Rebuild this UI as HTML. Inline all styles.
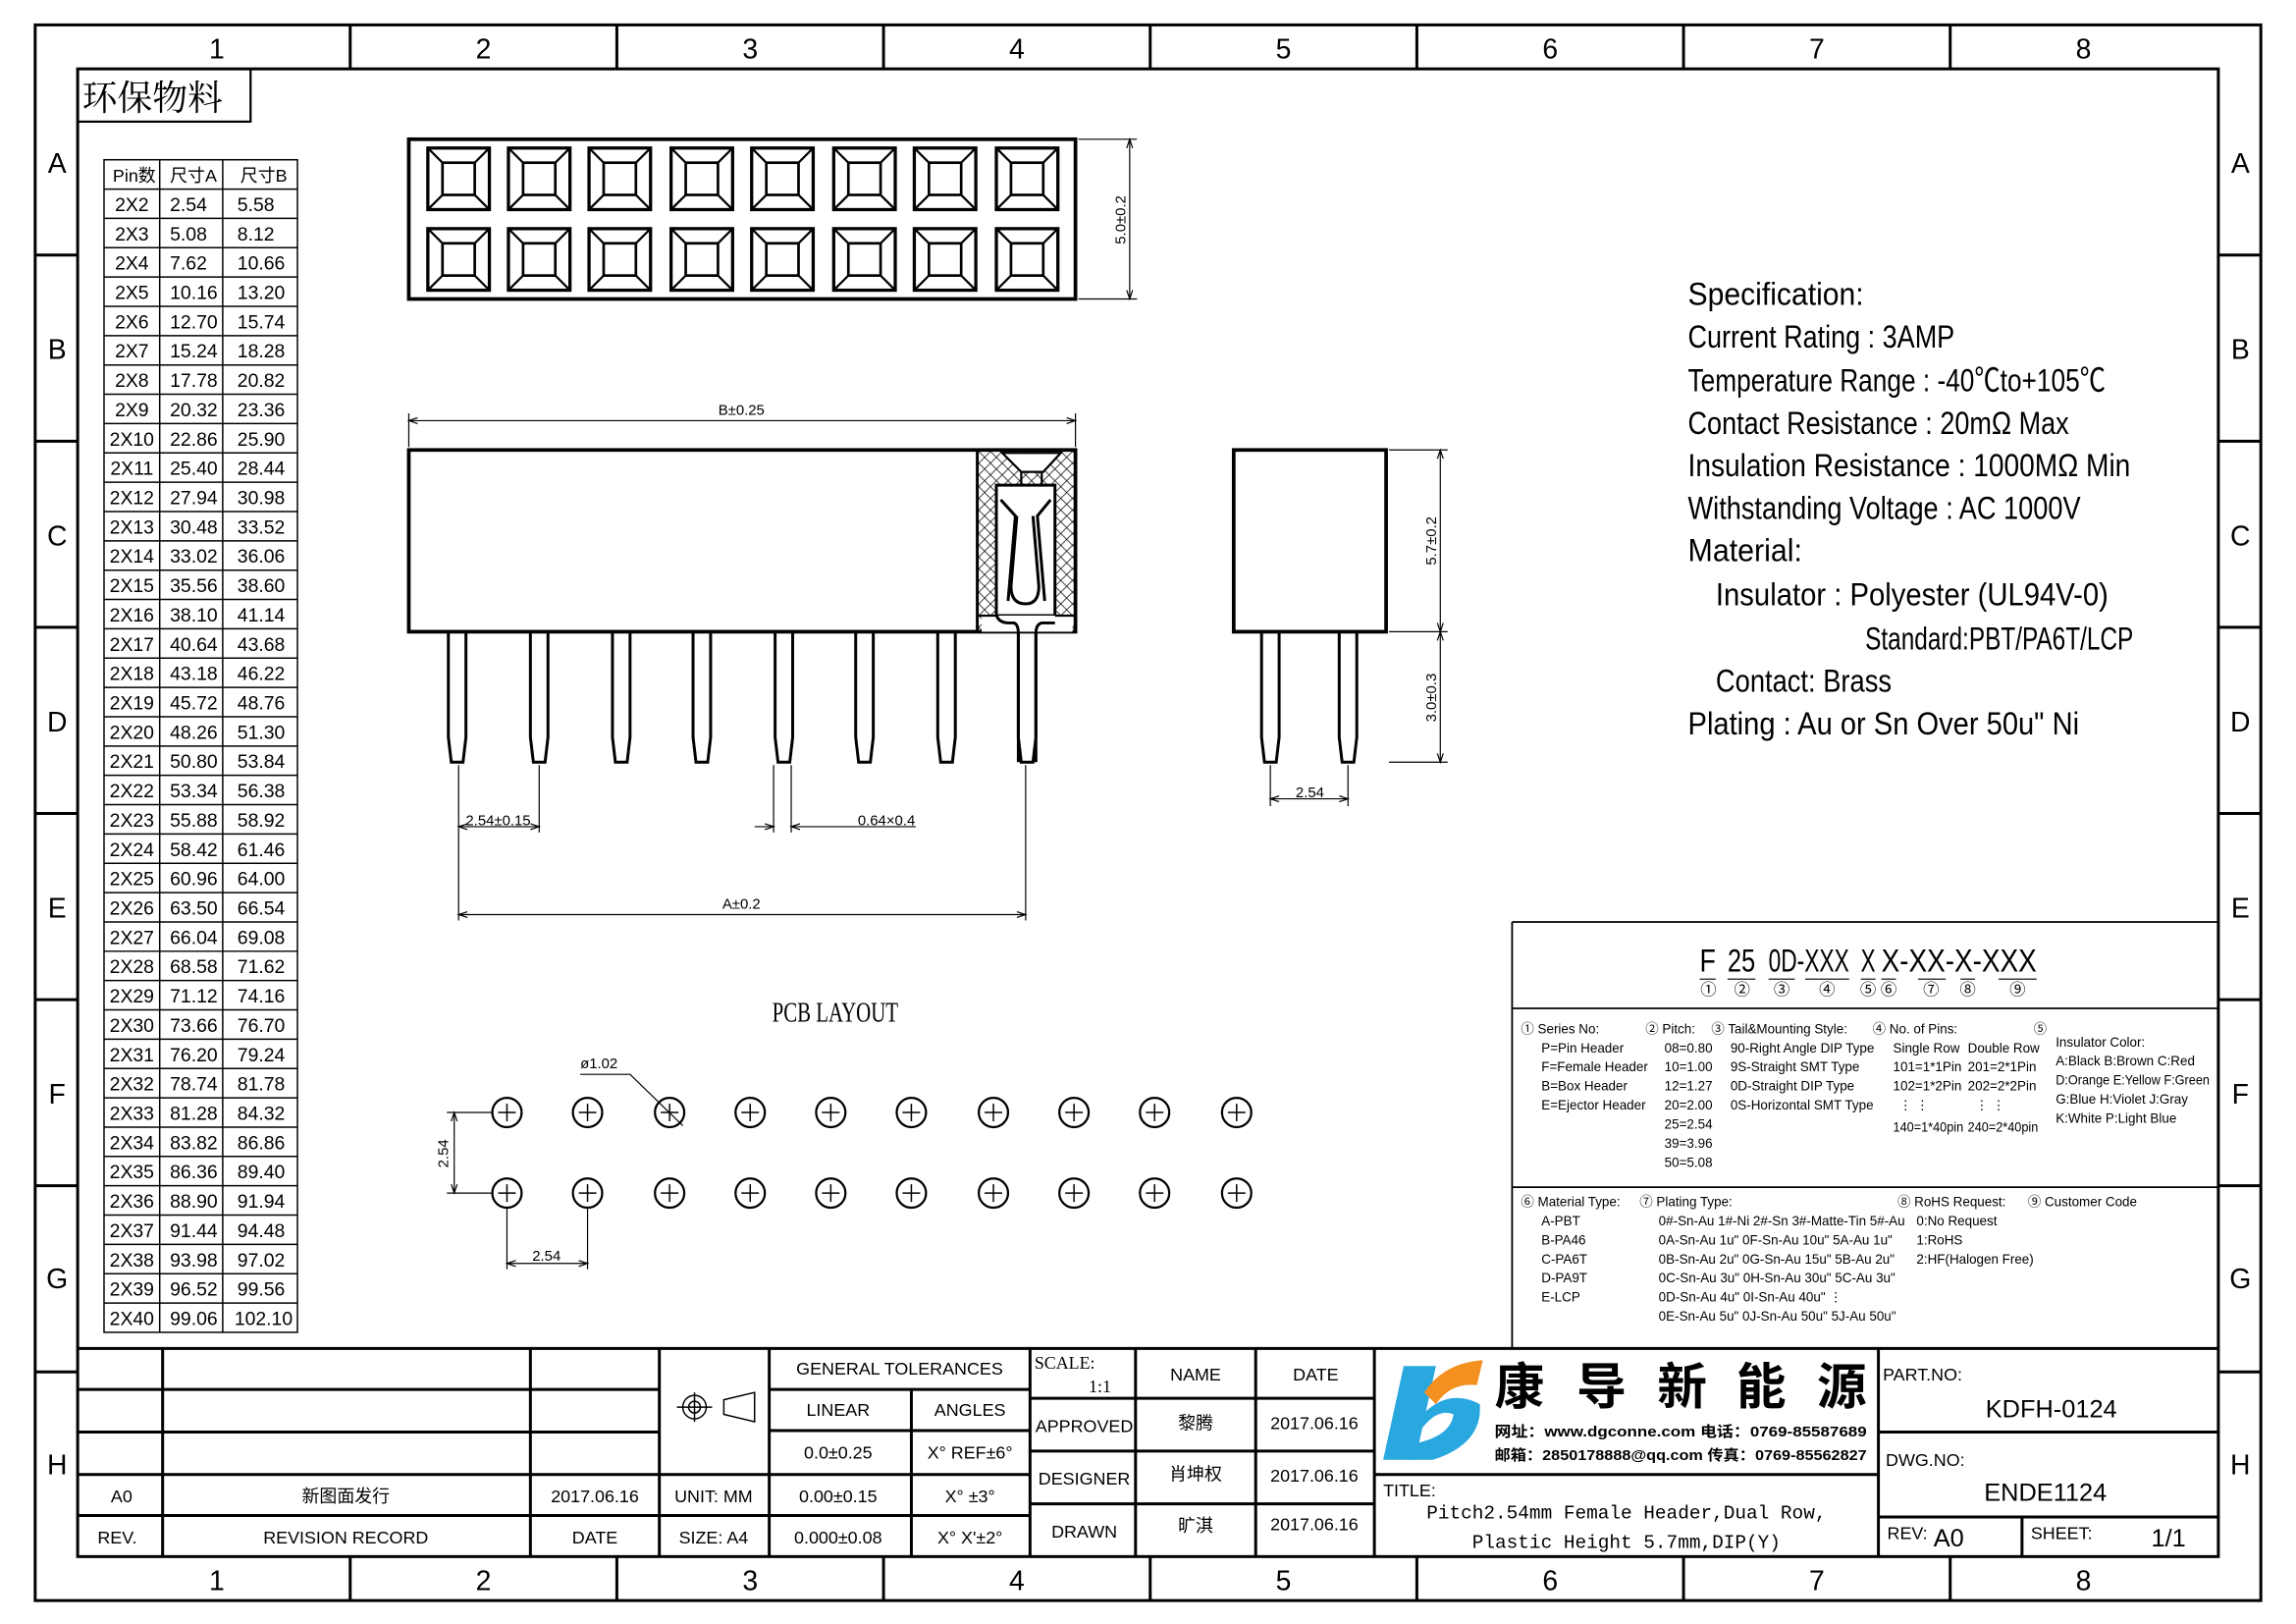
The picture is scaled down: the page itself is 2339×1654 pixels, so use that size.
<!DOCTYPE html>
<html><head><meta charset="utf-8"><style>
html,body{margin:0;padding:0;background:#fff;}
svg{display:block;}
text{font-family:"Liberation Sans","Noto Sans CJK SC",sans-serif;fill:#000;}
.s{font-family:"Liberation Serif","Noto Serif CJK SC",serif;}
.m{font-family:"Liberation Mono","Noto Sans CJK SC",monospace;}
</style></head><body>
<svg width="2339" height="1654" viewBox="0 0 1567 1108" preserveAspectRatio="none" xmlns="http://www.w3.org/2000/svg">
<rect x="0" y="0" width="1567" height="1108" fill="#fff"/>
<g fill="none" stroke="#000" stroke-width="2">
<rect x="24" y="17" width="1519" height="1075"/>
<rect x="53" y="47" width="1461" height="1015"/>
</g>
<g stroke="#000" stroke-width="2">
<line x1="239" y1="17" x2="239" y2="47"/><line x1="421" y1="17" x2="421" y2="47"/><line x1="603" y1="17" x2="603" y2="47"/><line x1="785" y1="17" x2="785" y2="47"/><line x1="967" y1="17" x2="967" y2="47"/><line x1="1149" y1="17" x2="1149" y2="47"/><line x1="1331" y1="17" x2="1331" y2="47"/>
<line x1="239" y1="1062" x2="239" y2="1092"/><line x1="421" y1="1062" x2="421" y2="1092"/><line x1="603" y1="1062" x2="603" y2="1092"/><line x1="785" y1="1062" x2="785" y2="1092"/><line x1="967" y1="1062" x2="967" y2="1092"/><line x1="1149" y1="1062" x2="1149" y2="1092"/><line x1="1331" y1="1062" x2="1331" y2="1092"/>
<line x1="24" y1="174" x2="53" y2="174"/><line x1="24" y1="301" x2="53" y2="301"/><line x1="24" y1="428" x2="53" y2="428"/><line x1="24" y1="555" x2="53" y2="555"/><line x1="24" y1="682" x2="53" y2="682"/><line x1="24" y1="809" x2="53" y2="809"/><line x1="24" y1="936" x2="53" y2="936"/>
<line x1="1514" y1="174" x2="1543" y2="174"/><line x1="1514" y1="301" x2="1543" y2="301"/><line x1="1514" y1="428" x2="1543" y2="428"/><line x1="1514" y1="555" x2="1543" y2="555"/><line x1="1514" y1="682" x2="1543" y2="682"/><line x1="1514" y1="809" x2="1543" y2="809"/><line x1="1514" y1="936" x2="1543" y2="936"/>
</g>
<g font-size="19" text-anchor="middle">
<text x="148" y="40">1</text><text x="330" y="40">2</text><text x="512" y="40">3</text><text x="694" y="40">4</text><text x="876" y="40">5</text><text x="1058" y="40">6</text><text x="1240" y="40">7</text><text x="1422" y="40">8</text>
<text x="148" y="1085">1</text><text x="330" y="1085">2</text><text x="512" y="1085">3</text><text x="694" y="1085">4</text><text x="876" y="1085">5</text><text x="1058" y="1085">6</text><text x="1240" y="1085">7</text><text x="1422" y="1085">8</text>
<text x="39" y="118">A</text><text x="39" y="245">B</text><text x="39" y="372">C</text><text x="39" y="499">D</text><text x="39" y="626">E</text><text x="39" y="753">F</text><text x="39" y="879">G</text><text x="39" y="1006">H</text>
<text x="1529" y="118">A</text><text x="1529" y="245">B</text><text x="1529" y="372">C</text><text x="1529" y="499">D</text><text x="1529" y="626">E</text><text x="1529" y="753">F</text><text x="1529" y="879">G</text><text x="1529" y="1006">H</text>
</g>
<rect x="53" y="47" width="118" height="36" fill="none" stroke="#000" stroke-width="1.5"/>
<text x="56" y="75" font-size="24" class="s">环保物料</text>

<g stroke="#000" stroke-width="1" fill="none">
<rect x="71" y="109" width="132" height="800"/>
<line x1="109" y1="109" x2="109" y2="909"/><line x1="152" y1="109" x2="152" y2="909"/>
<path d="M71 129H203M71 149H203M71 169H203M71 189H203M71 209H203M71 229H203M71 249H203M71 269H203M71 289H203M71 309H203M71 329H203M71 349H203M71 369H203M71 389H203M71 409H203M71 429H203M71 449H203M71 469H203M71 489H203M71 509H203M71 529H203M71 549H203M71 569H203M71 589H203M71 609H203M71 629H203M71 649H203M71 669H203M71 689H203M71 709H203M71 729H203M71 749H203M71 769H203M71 789H203M71 809H203M71 829H203M71 849H203M71 869H203M71 889H203"/>
</g>
<g font-size="12" class="s">
<text x="77" y="124">Pin数</text><text x="116" y="124">尺寸A</text><text x="164" y="124">尺寸B</text>
</g>
<g font-size="13" class="s">
<g text-anchor="middle">
<text x="90" y="144">2X2</text><text x="90" y="164">2X3</text><text x="90" y="184">2X4</text><text x="90" y="204">2X5</text><text x="90" y="224">2X6</text><text x="90" y="244">2X7</text><text x="90" y="264">2X8</text><text x="90" y="284">2X9</text><text x="90" y="304">2X10</text><text x="90" y="324">2X11</text><text x="90" y="344">2X12</text><text x="90" y="364">2X13</text><text x="90" y="384">2X14</text><text x="90" y="404">2X15</text><text x="90" y="424">2X16</text><text x="90" y="444">2X17</text><text x="90" y="464">2X18</text><text x="90" y="484">2X19</text><text x="90" y="504">2X20</text><text x="90" y="524">2X21</text><text x="90" y="544">2X22</text><text x="90" y="564">2X23</text><text x="90" y="584">2X24</text><text x="90" y="604">2X25</text><text x="90" y="624">2X26</text><text x="90" y="644">2X27</text><text x="90" y="664">2X28</text><text x="90" y="684">2X29</text><text x="90" y="704">2X30</text><text x="90" y="724">2X31</text><text x="90" y="744">2X32</text><text x="90" y="764">2X33</text><text x="90" y="784">2X34</text><text x="90" y="804">2X35</text><text x="90" y="824">2X36</text><text x="90" y="844">2X37</text><text x="90" y="864">2X38</text><text x="90" y="884">2X39</text><text x="90" y="904">2X40</text>
</g>
<g>
<text x="116" y="144">2.54</text><text x="116" y="164">5.08</text><text x="116" y="184">7.62</text><text x="116" y="204">10.16</text><text x="116" y="224">12.70</text><text x="116" y="244">15.24</text><text x="116" y="264">17.78</text><text x="116" y="284">20.32</text><text x="116" y="304">22.86</text><text x="116" y="324">25.40</text><text x="116" y="344">27.94</text><text x="116" y="364">30.48</text><text x="116" y="384">33.02</text><text x="116" y="404">35.56</text><text x="116" y="424">38.10</text><text x="116" y="444">40.64</text><text x="116" y="464">43.18</text><text x="116" y="484">45.72</text><text x="116" y="504">48.26</text><text x="116" y="524">50.80</text><text x="116" y="544">53.34</text><text x="116" y="564">55.88</text><text x="116" y="584">58.42</text><text x="116" y="604">60.96</text><text x="116" y="624">63.50</text><text x="116" y="644">66.04</text><text x="116" y="664">68.58</text><text x="116" y="684">71.12</text><text x="116" y="704">73.66</text><text x="116" y="724">76.20</text><text x="116" y="744">78.74</text><text x="116" y="764">81.28</text><text x="116" y="784">83.82</text><text x="116" y="804">86.36</text><text x="116" y="824">88.90</text><text x="116" y="844">91.44</text><text x="116" y="864">93.98</text><text x="116" y="884">96.52</text><text x="116" y="904">99.06</text>
<text x="162" y="144">5.58</text><text x="162" y="164">8.12</text><text x="162" y="184">10.66</text><text x="162" y="204">13.20</text><text x="162" y="224">15.74</text><text x="162" y="244">18.28</text><text x="162" y="264">20.82</text><text x="162" y="284">23.36</text><text x="162" y="304">25.90</text><text x="162" y="324">28.44</text><text x="162" y="344">30.98</text><text x="162" y="364">33.52</text><text x="162" y="384">36.06</text><text x="162" y="404">38.60</text><text x="162" y="424">41.14</text><text x="162" y="444">43.68</text><text x="162" y="464">46.22</text><text x="162" y="484">48.76</text><text x="162" y="504">51.30</text><text x="162" y="524">53.84</text><text x="162" y="544">56.38</text><text x="162" y="564">58.92</text><text x="162" y="584">61.46</text><text x="162" y="604">64.00</text><text x="162" y="624">66.54</text><text x="162" y="644">69.08</text><text x="162" y="664">71.62</text><text x="162" y="684">74.16</text><text x="162" y="704">76.70</text><text x="162" y="724">79.24</text><text x="162" y="744">81.78</text><text x="162" y="764">84.32</text><text x="162" y="784">86.86</text><text x="162" y="804">89.40</text><text x="162" y="824">91.94</text><text x="162" y="844">94.48</text><text x="162" y="864">97.02</text><text x="162" y="884">99.56</text><text x="160" y="904">102.10</text>
</g></g>

<defs>
<g id="sq" fill="none" stroke="#000">
<rect x="-21" y="-21" width="42" height="42" stroke-width="2.2"/>
<rect x="-11" y="-11" width="22" height="22" stroke-width="1.8"/>
<path d="M-21 -21L-11 -11M21 -21L11 -11M-21 21L-11 11M21 21L11 11" stroke-width="1.5"/>
</g>
<g id="pc" fill="none" stroke="#000" stroke-width="1.5">
<circle r="10"/><path d="M-6 0H6M0 -6V6" stroke-width="1"/>
</g>
<g id="pin" fill="#fff" stroke="#000" stroke-width="2">
<path d="M-6 0V72L-4 89H4L6 72V0"/>
</g>
</defs>
<rect x="279" y="95" width="455" height="109" fill="none" stroke="#000" stroke-width="2.5"/>
<use href="#sq" x="313" y="122"/><use href="#sq" x="368" y="122"/><use href="#sq" x="423" y="122"/><use href="#sq" x="479" y="122"/><use href="#sq" x="534" y="122"/><use href="#sq" x="590" y="122"/><use href="#sq" x="645" y="122"/><use href="#sq" x="701" y="122"/>
<use href="#sq" x="313" y="177"/><use href="#sq" x="368" y="177"/><use href="#sq" x="423" y="177"/><use href="#sq" x="479" y="177"/><use href="#sq" x="534" y="177"/><use href="#sq" x="590" y="177"/><use href="#sq" x="645" y="177"/><use href="#sq" x="701" y="177"/>
<g stroke="#000" stroke-width="0.8" fill="none">
<path d="M736 95H776M736 204H776M771 95V204"/>
<path d="M769 101L771 95L773 101M769 198L771 204L773 198"/>
</g>
<text x="768" y="150" font-size="10" text-anchor="middle" transform="rotate(-90 768 150)">5.0±0.2</text>

<g stroke="#000" stroke-width="0.8" fill="none">
<path d="M279 282V305M734 282V305M279 287H734"/>
<path d="M285 285L279 287L285 289M728 285L734 287L728 289"/>
</g>
<text x="506" y="283" font-size="10" text-anchor="middle">B±0.25</text>
<use href="#pin" x="312" y="431"/><use href="#pin" x="368" y="431"/><use href="#pin" x="424" y="431"/><use href="#pin" x="479" y="431"/><use href="#pin" x="535" y="431"/><use href="#pin" x="590" y="431"/><use href="#pin" x="646" y="431"/><use href="#pin" x="701" y="431"/>
<rect x="279" y="307" width="455" height="124" fill="#fff" stroke="#000" stroke-width="2.5"/>
<defs><pattern id="hx" width="8" height="8" patternUnits="userSpaceOnUse"><path d="M0 0L8 8M8 0L0 8" stroke="#000" stroke-width="0.5"/></pattern></defs>
<rect x="667" y="307" width="67" height="124" fill="url(#hx)" stroke="#000" stroke-width="2"/>
<path d="M684 309L697 322H712L724 309Z" fill="#fff" stroke="#000" stroke-width="1.5"/>
<path d="M680 331H720V420H680Z" fill="#fff" stroke="#000" stroke-width="2"/>
<rect x="670" y="420" width="62" height="11" fill="#fff" stroke="none"/>
<path d="M667 420H680M720 420H734" stroke="#000" stroke-width="1.5"/>
<path d="M697 322V331M711 322V331" stroke="#000" stroke-width="1.5"/>
<path d="M680 419Q681 425 689 425H692Q695 426 695 432V520M707 520V432Q707 426 711 425H720" fill="none" stroke="#000" stroke-width="2"/>
<path d="M683 341L693 352L688 410M717 341L708 352L713 410" fill="none" stroke="#000" stroke-width="2"/>
<path d="M694 352L690 400Q690 412 700 412Q709 412 709 400L705 352" fill="none" stroke="#000" stroke-width="2"/>
<g stroke="#000" stroke-width="0.8" fill="none">
<path d="M313 522V628M368 522V568M700 522V628M528 522V568M540 522V568"/>
<path d="M313 564H368M319 562L313 564L319 566M362 562L368 564L362 566"/>
<path d="M515 564H528M522 562L528 564L522 566M540 564H625M546 562L540 564L546 566"/>
<path d="M313 624H700M319 622L313 624L319 626M694 622L700 624L694 626"/>
</g>
<g font-size="10" text-anchor="middle">
<text x="340" y="563">2.54±0.15</text><text x="605" y="563">0.64×0.4</text><text x="506" y="620">A±0.2</text>
</g>

<use href="#pin" x="867" y="431"/><use href="#pin" x="920" y="431"/>
<rect x="842" y="307" width="104" height="124" fill="#fff" stroke="#000" stroke-width="2.5"/>
<g stroke="#000" stroke-width="0.8" fill="none">
<path d="M948 307H988M948 431H988M983 307V520M948 520H988"/>
<path d="M981 313L983 307L985 313M981 425L983 431L985 425M981 437L983 431L985 437M981 514L983 520L985 514"/>
<path d="M867 522V550M920 522V550M867 545H920M873 543L867 545L873 547M914 543L920 545L914 547"/>
</g>
<text x="980" y="369" font-size="10" text-anchor="middle" transform="rotate(-90 980 369)">5.7±0.2</text>
<text x="980" y="476" font-size="10" text-anchor="middle" transform="rotate(-90 980 476)">3.0±0.3</text>
<text x="894" y="544" font-size="10" text-anchor="middle">2.54</text>

<g font-size="22" class="s">
<text x="1152" y="208" textLength="120" lengthAdjust="spacingAndGlyphs">Specification:</text>
<text x="1152" y="237" textLength="182" lengthAdjust="spacingAndGlyphs">Current Rating : 3AMP</text>
<text x="1152" y="267" textLength="285" lengthAdjust="spacingAndGlyphs">Temperature Range : -40℃to+105℃</text>
<text x="1152" y="296" textLength="260" lengthAdjust="spacingAndGlyphs">Contact Resistance : 20mΩ Max</text>
<text x="1152" y="325" textLength="302" lengthAdjust="spacingAndGlyphs">Insulation Resistance : 1000MΩ Min</text>
<text x="1152" y="354" textLength="268" lengthAdjust="spacingAndGlyphs">Withstanding Voltage : AC 1000V</text>
<text x="1152" y="383" textLength="78" lengthAdjust="spacingAndGlyphs">Material:</text>
<text x="1171" y="413" textLength="268" lengthAdjust="spacingAndGlyphs">Insulator : Polyester (UL94V-0)</text>
<text x="1273" y="443" textLength="183" lengthAdjust="spacingAndGlyphs">Standard:PBT/PA6T/LCP</text>
<text x="1171" y="472" textLength="120" lengthAdjust="spacingAndGlyphs">Contact: Brass</text>
<text x="1152" y="501" textLength="267" lengthAdjust="spacingAndGlyphs">Plating : Au or Sn Over 50u" Ni</text>
</g>

<text x="570" y="697" font-size="19" text-anchor="middle" class="s" textLength="86" lengthAdjust="spacingAndGlyphs">PCB LAYOUT</text>
<use href="#pc" x="346" y="759"/><use href="#pc" x="401" y="759"/><use href="#pc" x="457" y="759"/><use href="#pc" x="512" y="759"/><use href="#pc" x="567" y="759"/><use href="#pc" x="622" y="759"/><use href="#pc" x="678" y="759"/><use href="#pc" x="733" y="759"/><use href="#pc" x="788" y="759"/><use href="#pc" x="844" y="759"/>
<use href="#pc" x="346" y="814"/><use href="#pc" x="401" y="814"/><use href="#pc" x="457" y="814"/><use href="#pc" x="512" y="814"/><use href="#pc" x="567" y="814"/><use href="#pc" x="622" y="814"/><use href="#pc" x="678" y="814"/><use href="#pc" x="733" y="814"/><use href="#pc" x="788" y="814"/><use href="#pc" x="844" y="814"/>
<g stroke="#000" stroke-width="0.8" fill="none">
<path d="M396 733H430L466 768"/>
<path d="M305 759H336M305 814H336M310 759V814M308 765L310 759L312 765M308 808L310 814L312 808"/>
<path d="M346 824V866M401 824V866M346 862H401M352 860L346 862L352 864M395 860L401 862L395 864"/>
</g>
<text x="396" y="729" font-size="10">ø1.02</text>
<text x="306" y="787" font-size="10" text-anchor="middle" transform="rotate(-90 306 787)">2.54</text>
<text x="373" y="860" font-size="10" text-anchor="middle">2.54</text>

<g stroke="#000" stroke-width="1.2" fill="none">
<path d="M1032 629H1514M1032 629V920M1032 688H1514M1032 810H1514"/>
</g>
<g font-size="22" class="s">
<text x="1160" y="663" textLength="11" lengthAdjust="spacingAndGlyphs">F</text>
<text x="1179" y="663" textLength="19" lengthAdjust="spacingAndGlyphs">25</text>
<text x="1207" y="663" textLength="55" lengthAdjust="spacingAndGlyphs">0D-XXX</text>
<text x="1270" y="663" textLength="10" lengthAdjust="spacingAndGlyphs">X</text>
<text x="1284" y="663" textLength="106" lengthAdjust="spacingAndGlyphs">X-XX-X-XXX</text>
</g>
<g stroke="#000" stroke-width="0.7">
<path d="M1160 668H1171M1179 668H1198M1207 668H1225M1232 668H1262M1270 668H1280M1284 668H1294M1309 668H1328M1338 668H1348M1364 668H1390"/>
</g>
<g font-size="11" text-anchor="middle">
<text x="1166" y="679">①</text><text x="1189" y="679">②</text><text x="1216" y="679">③</text><text x="1247" y="679">④</text><text x="1275" y="679">⑤</text><text x="1289" y="679">⑥</text><text x="1318" y="679">⑦</text><text x="1343" y="679">⑧</text><text x="1377" y="679">⑨</text>
</g>
<g font-size="9" class="s">
<text x="1038" y="705">① Series No:</text>
<text x="1052" y="718">P=Pin Header</text><text x="1052" y="731">F=Female Header</text><text x="1052" y="744">B=Box Header</text><text x="1052" y="757">E=Ejector Header</text>
<text x="1123" y="705">② Pitch:</text>
<text x="1136" y="718">08=0.80</text><text x="1136" y="731">10=1.00</text><text x="1136" y="744">12=1.27</text><text x="1136" y="757">20=2.00</text><text x="1136" y="770">25=2.54</text><text x="1136" y="783">39=3.96</text><text x="1136" y="796">50=5.08</text>
<text x="1168" y="705">③ Tail&amp;Mounting Style:</text>
<text x="1181" y="718">90-Right Angle DIP Type</text><text x="1181" y="731">9S-Straight SMT Type</text><text x="1181" y="744">0D-Straight DIP Type</text><text x="1181" y="757">0S-Horizontal SMT Type</text>
<text x="1278" y="705">④ No. of Pins:</text>
<text x="1292" y="718">Single Row</text><text x="1343" y="718">Double Row</text>
<text x="1292" y="731">101=1*1Pin</text><text x="1343" y="731">201=2*1Pin</text>
<text x="1292" y="744">102=1*2Pin</text><text x="1343" y="744">202=2*2Pin</text>
<text x="1296" y="757">⋮  ⋮</text><text x="1348" y="757">⋮  ⋮</text>
<text x="1292" y="772" textLength="48" lengthAdjust="spacingAndGlyphs">140=1*40pin</text><text x="1343" y="772" textLength="48" lengthAdjust="spacingAndGlyphs">240=2*40pin</text>
<text x="1388" y="705">⑤</text>
<text x="1403" y="714">Insulator Color:</text>
<text x="1403" y="727">A:Black  B:Brown  C:Red</text>
<text x="1403" y="740" textLength="105" lengthAdjust="spacingAndGlyphs">D:Orange E:Yellow F:Green</text>
<text x="1403" y="753">G:Blue   H:Violet J:Gray</text>
<text x="1403" y="766">K:White  P:Light Blue</text>
<text x="1038" y="823">⑥ Material Type:</text>
<text x="1052" y="836">A-PBT</text><text x="1052" y="849">B-PA46</text><text x="1052" y="862">C-PA6T</text><text x="1052" y="875">D-PA9T</text><text x="1052" y="888">E-LCP</text>
<text x="1119" y="823">⑦ Plating Type:</text>
<text x="1132" y="836">0#-Sn-Au 1#-Ni 2#-Sn 3#-Matte-Tin 5#-Au</text>
<text x="1132" y="849">0A-Sn-Au 1u" 0F-Sn-Au 10u"  5A-Au 1u"</text>
<text x="1132" y="862">0B-Sn-Au 2u" 0G-Sn-Au 15u"  5B-Au 2u"</text>
<text x="1132" y="875">0C-Sn-Au 3u" 0H-Sn-Au 30u"  5C-Au 3u"</text>
<text x="1132" y="888">0D-Sn-Au 4u" 0I-Sn-Au 40u"      ⋮</text>
<text x="1132" y="901">0E-Sn-Au 5u" 0J-Sn-Au 50u"  5J-Au 50u"</text>
<text x="1295" y="823">⑧ RoHS Request:</text>
<text x="1308" y="836">0:No Request</text><text x="1308" y="849">1:RoHS</text><text x="1308" y="862">2:HF(Halogen Free)</text>
<text x="1384" y="823">⑨ Customer Code</text>
</g>

<g stroke="#000" stroke-width="2" fill="none">
<path d="M53 920H1514"/>
<path d="M111 920V1062M362 920V1062M450 920V1062M525 920V1062M703 920V1062M775 920V1062M857 920V1062M938 920V1062M1282 920V1062"/>
<path d="M53 948H450M53 977H450M53 1006H703M53 1034H703M525 948H703M525 976H703M622 948V1062"/>
<path d="M703 954H938M703 990H938M703 1026H938"/>
<path d="M938 1006H1282M1282 977H1514M1282 1035H1514M1380 1035V1062"/>
</g>
<g font-size="12" text-anchor="middle" class="s">
<text x="83" y="1025">A0</text><text x="236" y="1025">新图面发行</text><text x="406" y="1025">2017.06.16</text>
<text x="80" y="1053">REV.</text><text x="236" y="1053">REVISION RECORD</text><text x="406" y="1053">DATE</text>
<text x="487" y="1025">UNIT: MM</text><text x="487" y="1053">SIZE: A4</text>
<text x="614" y="938">GENERAL TOLERANCES</text>
<text x="572" y="966">LINEAR</text><text x="662" y="966">ANGLES</text>
<text x="572" y="995">0.0±0.25</text><text x="662" y="995">X° REF±6°</text>
<text x="572" y="1025">0.00±0.15</text><text x="662" y="1025">X° ±3°</text>
<text x="572" y="1053">0.000±0.08</text><text x="662" y="1053">X° X'±2°</text>
<text x="740" y="977">APPROVED</text><text x="740" y="1013">DESIGNER</text><text x="740" y="1049">DRAWN</text>
<text x="816" y="942">NAME</text><text x="898" y="942">DATE</text>
<text x="816" y="975">黎腾</text><text x="816" y="1010">肖坤权</text><text x="816" y="1045">旷淇</text>
<text x="897" y="975">2017.06.16</text><text x="897" y="1011">2017.06.16</text><text x="897" y="1044">2017.06.16</text>
</g>
<text x="706" y="934" font-size="12" class="s">SCALE:</text>
<text x="743" y="950" font-size="12" class="s">1:1</text>
<g stroke="#000" stroke-width="1" fill="none">
<circle cx="474" cy="960" r="8"/><circle cx="474" cy="960" r="4"/><path d="M462 960H486M474 950V970"/>
<path d="M494 955L515 950V970L494 965Z"/>
</g>
<path d="M958 932H980L966 996H944Z" fill="#29a8e0"/>
<path d="M965 972Q985 945 1010 958Q1012 985 978 996H960L965 985Q990 980 992 965Q980 960 968 978Z" fill="#29a8e0"/>
<path d="M972 950Q985 930 1012 928L1008 945Q990 943 980 958Z" fill="#f39020"/>
<g font-size="34" font-weight="bold">
<text x="1020" y="958" font-family="Noto Sans CJK SC,sans-serif">康</text>
<text x="1076" y="958" font-family="Noto Sans CJK SC,sans-serif">导</text>
<text x="1131" y="958" font-family="Noto Sans CJK SC,sans-serif">新</text>
<text x="1185" y="958" font-family="Noto Sans CJK SC,sans-serif">能</text>
<text x="1240" y="958" font-family="Noto Sans CJK SC,sans-serif">源</text>
</g>
<g font-size="10" font-weight="bold">
<text x="1020" y="980" textLength="254" lengthAdjust="spacingAndGlyphs">网址：www.dgconne.com   电话：0769-85587689</text>
<text x="1020" y="996" textLength="254" lengthAdjust="spacingAndGlyphs">邮箱：2850178888@qq.com 传真：0769-85562827</text>
</g>
<g class="s">
<text x="944" y="1021" font-size="12">TITLE:</text>
<text x="1110" y="1036" font-size="13" text-anchor="middle" class="m">Pitch2.54mm Female Header,Dual Row,</text>
<text x="1110" y="1056" font-size="13" text-anchor="middle" class="m">Plastic Height 5.7mm,DIP(Y)</text>
<text x="1285" y="942" font-size="12">PART.NO:</text>
<text x="1400" y="967" font-size="17" text-anchor="middle">KDFH-0124</text>
<text x="1287" y="1000" font-size="12">DWG.NO:</text>
<text x="1396" y="1024" font-size="17" text-anchor="middle">ENDE1124</text>
<text x="1288" y="1050" font-size="12">REV:</text>
<text x="1330" y="1055" font-size="17" text-anchor="middle">A0</text>
<text x="1386" y="1050" font-size="12">SHEET:</text>
<text x="1480" y="1055" font-size="17" text-anchor="middle">1/1</text>
</g>
</svg>
</body></html>
